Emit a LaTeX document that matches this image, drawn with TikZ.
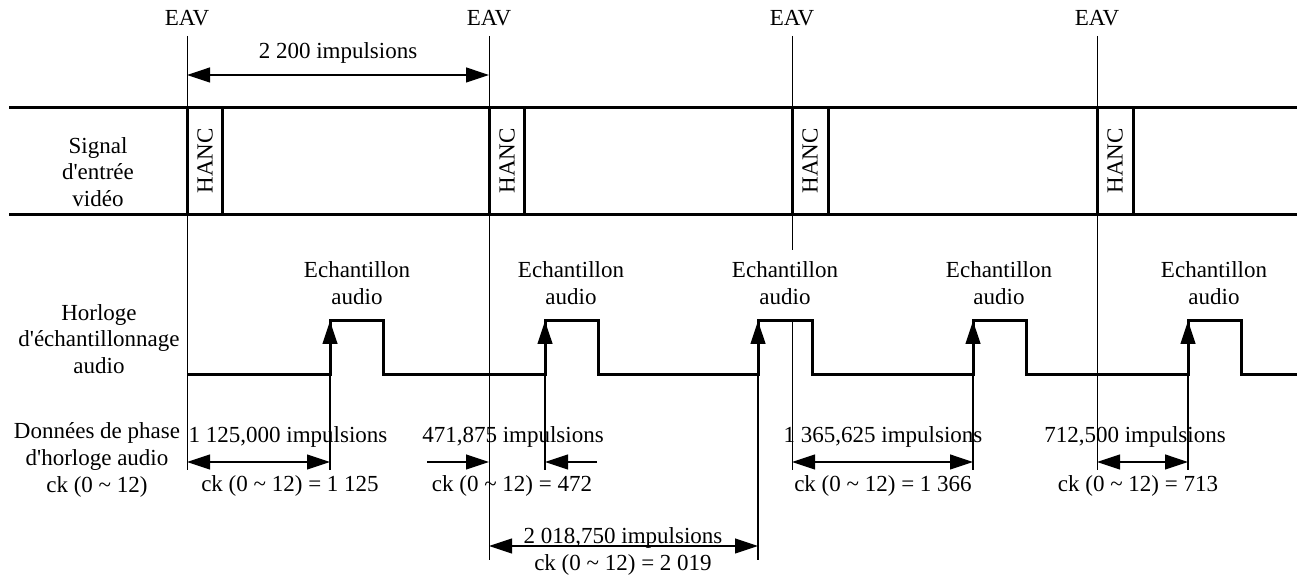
\documentclass[tikz,border=0pt]{standalone}
\usepackage{fontspec}
\setmainfont{Liberation Serif}
\usetikzlibrary{arrows.meta}

\begin{document}
\begin{tikzpicture}[x = 0.5pt, y = -0.5pt,
	heavy/.style = {line width = 1.5pt},
	hair/.style = {line width = 0.5pt},
	dimline/.style = {line width = 0.6pt, {Triangle[length=11.5pt,width=7.5pt]}-{Triangle[length=11.5pt,width=7.5pt]}},
	tipline/.style = {line width = 0.6pt, -{Triangle[length=11.5pt,width=7.5pt]}},
	lbl/.style = {font = \fontsize{11.5}{13.3}\selectfont, inner sep = 0pt, align = center}]

	\useasboundingbox (0,0) rectangle (1297,582);

	% EAV reference lines
	\node [lbl] (eavA) at (187,18) {EAV};
	\node [lbl] (eavB) at (489,18) {EAV};
	\node [lbl] (eavC) at (792,18) {EAV};
	\node [lbl] (eavD) at (1097,18) {EAV};
	\draw [hair] (187,36) -- (187,470);
	\draw [hair] (489,36) -- (489,560);
	\draw [hair] (792,36) -- (792,250);
	\draw [hair] (792,321) -- (792,470);
	\draw [hair] (1097,36) -- (1097,470);

	\node [lbl] (line) at (338,53) {2 200 impulsions};
	\draw [dimline] (187,75) -- (489,75);

	% video input signal
	\node [lbl] (video) at (98,172) {Signal\\d\textquotesingle entr\'ee\\vid\'eo};
	\draw [heavy] (9,108) -- (1297,108);
	\draw [heavy] (9,215) -- (1297,215);
	\draw [heavy] (187,108) rectangle (222,215);
	\draw [heavy] (489,108) rectangle (524,215);
	\draw [heavy] (792,108) rectangle (828,215);
	\draw [heavy] (1097,108) rectangle (1133,215);
	\node [lbl, rotate = 90] (hancA) at (205,161) {HANC};
	\node [lbl, rotate = 90] (hancB) at (507,161) {HANC};
	\node [lbl, rotate = 90] (hancC) at (810,161) {HANC};
	\node [lbl, rotate = 90] (hancD) at (1115,161) {HANC};

	% audio sampling clock
	\node [lbl] (clock) at (99,339) {Horloge\\d\textquotesingle\'echantillonnage\\audio};
	\node [lbl] (smpA) at (357,283) {Echantillon\\audio};
	\node [lbl] (smpB) at (571,283) {Echantillon\\audio};
	\node [lbl] (smpC) at (785,283) {Echantillon\\audio};
	\node [lbl] (smpD) at (999,283) {Echantillon\\audio};
	\node [lbl] (smpE) at (1214,283) {Echantillon\\audio};
	\draw [heavy] (187,375) -- (330,375) -- (330,321) -- (383,321) -- (383,375)
		-- (545,375) -- (545,321) -- (598,321) -- (598,375)
		-- (758,375) -- (758,321) -- (812,321) -- (812,375)
		-- (973,375) -- (973,321) -- (1026,321) -- (1026,375)
		-- (1188,375) -- (1188,321) -- (1241,321) -- (1241,375) -- (1297,375);
	\draw [tipline] (330,470) -- (330,321);
	\draw [tipline] (545,470) -- (545,321);
	\draw [tipline] (758,560) -- (758,321);
	\draw [tipline] (973,470) -- (973,321);
	\draw [tipline] (1188,470) -- (1188,321);

	% phase data
	\node [lbl] (phase) at (97,460) {Donn\'ees de phase\\d\textquotesingle horloge audio\\ck (0 \char`\~{} 12)};

	\node [lbl] (pulA) at (288,437) {1 125,000 impulsions};
	\draw [dimline] (187,462) -- (330,462);
	\node [lbl] (ckA) at (290,486) {ck (0 \char`\~{} 12) = 1 125};

	\node [lbl] (pulB) at (513,437) {471,875 impulsions};
	\draw [tipline] (427,462) -- (489,462);
	\draw [tipline] (597,462) -- (545,462);
	\node [lbl] (ckB) at (512,486) {ck (0 \char`\~{} 12) = 472};

	\node [lbl] (pulC) at (623,538) {2 018,750 impulsions};
	\draw [dimline] (489,546) -- (758,546);
	\node [lbl] (ckC) at (623,565) {ck (0 \char`\~{} 12) = 2 019};

	\node [lbl] (pulD) at (883,437) {1 365,625 impulsions};
	\draw [dimline] (792,462) -- (973,462);
	\node [lbl] (ckD) at (883,486) {ck (0 \char`\~{} 12) = 1 366};

	\node [lbl] (pulE) at (1135,437) {712,500 impulsions};
	\draw [dimline] (1097,462) -- (1188,462);
	\node [lbl] (ckE) at (1138,486) {ck (0 \char`\~{} 12) = 713};

\end{tikzpicture}
\end{document}
